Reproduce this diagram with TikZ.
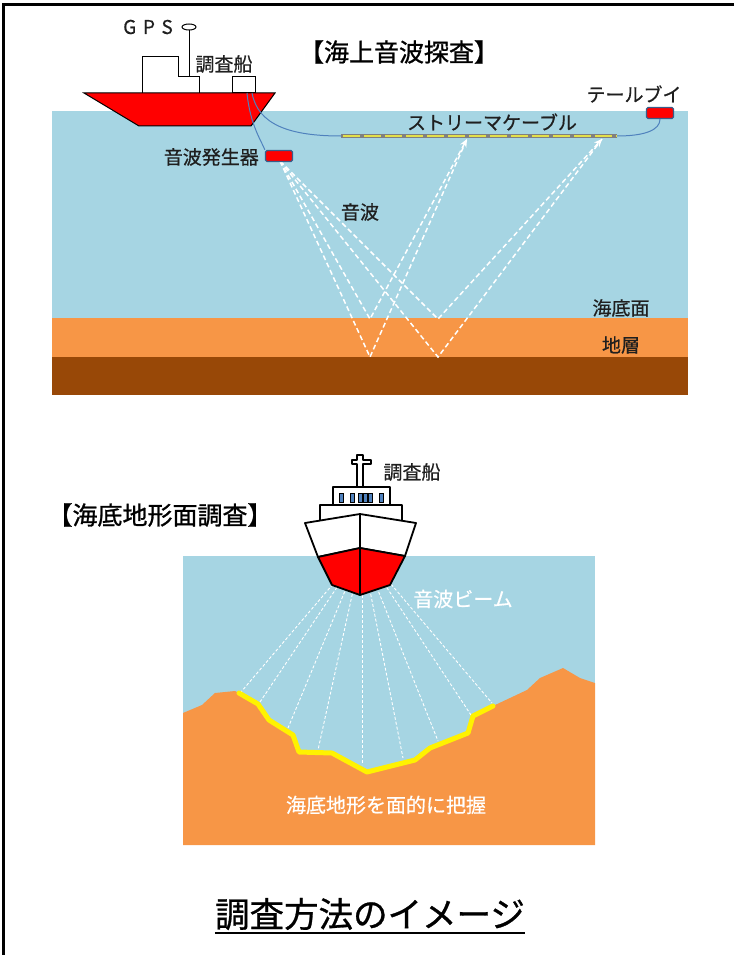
\documentclass[tikz,border=0pt]{standalone}
\usepackage{fontspec}
\setmainfont{Noto Sans CJK JP}
\usetikzlibrary{arrows.meta}

\definecolor{sea}{HTML}{A6D5E3}
\definecolor{ground}{HTML}{F79646}
\definecolor{rock}{HTML}{984807}
\definecolor{cable}{HTML}{4F81BD}
\definecolor{floatline}{HTML}{385D8A}
\definecolor{streamer}{HTML}{E3E04A}
\definecolor{txt}{HTML}{1F1F1F}

\tikzset{label_style/.style={text=txt, font=\fontsize{19}{19}\selectfont\addfontfeature{FakeBold=0.6}, inner sep=0pt}}
\tikzset{white_label/.style={text=white, font=\fontsize{20}{20}\selectfont\addfontfeature{FakeBold=0.6}, inner sep=0pt}}
\tikzset{title_style/.style={text=black, font=\fontsize{25}{25}\selectfont\addfontfeature{FakeBold=1}, inner sep=0pt}}
\tikzset{wave_style/.style={white, line width=1.5pt, dash pattern=on 5pt off 3pt}}
\tikzset{beam_style/.style={white, line width=0.9pt, dash pattern=on 3pt off 2pt}}
\tikzset{float_style/.style={rectangle, rounded corners=1.5pt, fill=red, draw=floatline, line width=1.3pt, minimum width=27pt, minimum height=11pt, inner sep=0pt}}
\tikzset{cable_style/.style={cable, line width=1pt}}
\tikzset{ship_style/.style={draw=black, line width=1.8pt, line join=round}}

\begin{document}
\begin{tikzpicture}[x=1pt, y=-1pt]
    \useasboundingbox (0,0) rectangle (734,955);
    \draw[line width=3pt] (734,5) -- (3,5) -- (3,955);

    % sea and layers
    \fill[sea] (52,111) rectangle (688,318);
    \fill[ground] (52,318) rectangle (688,357);
    \fill[rock] (52,357) rectangle (688,395);

    % sound waves
    \coordinate (src) at (280,161);
    \coordinate (f1) at (370,319);
    \coordinate (f2) at (370,357);
    \coordinate (f3) at (438,319);
    \coordinate (f4) at (438,357);
    \coordinate (hit1) at (467,139);
    \coordinate (hit2) at (602,139);
    \draw[wave_style, -{Stealth[length=8pt, width=7pt]}] (src) -- (f1) -- (hit1);
    \draw[wave_style] (src) -- (f2) -- (hit1);
    \draw[wave_style, -{Stealth[length=8pt, width=7pt]}] (src) -- (f3) -- (hit2);
    \draw[wave_style] (src) -- (f4) -- (hit2);

    % survey ship
    \draw[fill=white, line width=1pt] (142,93) -- (142,57) -- (178,57) -- (178,77) -- (199,77) -- (199,93);
    \draw[line width=1pt] (189,77) -- (189,30);
    \draw[fill=white, line width=1pt] (189,27) ellipse (7 and 3);
    \draw[fill=white, line width=1pt] (232,77) rectangle (255,93);
    \draw[fill=red, line width=1pt] (84,93) -- (275,93) -- (251,126) -- (139,126) -- cycle;

    % streamer cable
    \coordinate (strm_a) at (341,136);
    \coordinate (strm_b) at (617,136);
    \node[float_style] (gen) at (279,156) {};
    \node[float_style] (buoy) at (660,113) {};
    \draw[cable_style] (247,93) .. controls (250,125) and (262,142) .. (gen.north west);
    \draw[cable_style] (252,93) .. controls (258,125) and (290,136) .. (strm_a);
    \draw[cable_style] (strm_b) .. controls (645,136) and (660,130) .. (buoy.south);
    \draw[gray, line width=4.5pt] (strm_a) -- (strm_b);
    \draw[streamer, line width=2.5pt, dash pattern=on 17pt off 4pt] ([xshift=2pt]strm_a) -- (strm_b);

    \node[label_style] (gps) at (148,27) {\addfontfeature{LetterSpace=35}GPS};
    \node[label_style] (ship1) at (224,64) {調査船};
    \node[title_style] (title1) at (399,52) {【海上音波探査】};
    \node[label_style] (buoy_lbl) at (634,94) {テールブイ};
    \node[label_style] (strm_lbl) at (492,122) {ストリーマケーブル};
    \node[label_style, anchor=east] (gen_lbl) at (259,157) {音波発生器};
    \node[label_style] (wave_lbl) at (360,212) {音波};
    \node[label_style] (floor_lbl) at (621,308) {海底面};
    \node[label_style] (layer_lbl) at (621,345) {地層};

    % seabed survey
    \fill[sea] (183,556) rectangle (595,845);
    \coordinate (focus) at (362,550);
    \foreach \bx/\by in {241/692, 260/702, 288/728, 318/750, 362/765, 403/758, 438/741, 471/715, 492/703}
        \draw[beam_style] (focus) -- (\bx,\by);
    \fill[ground] (183,713) -- (202,705) -- (215,693) -- (235,691) -- (239,693)
        -- (258,704) -- (269,720) -- (293,735) -- (299,752) -- (332,753) -- (367,772)
        -- (415,760) -- (430,748) -- (468,733) -- (473,716) -- (493,706)
        -- (527,690) -- (540,678) -- (563,668) -- (580,678) -- (595,683)
        -- (595,845) -- (183,845) -- cycle;
    \draw[yellow, line width=5pt, line join=round, line cap=round] (239,693)
        -- (258,704) -- (269,720) -- (293,735) -- (299,752) -- (332,753) -- (367,772)
        -- (415,760) -- (430,748) -- (468,733) -- (473,716) -- (493,706);

    % ship seen from the bow
    \draw[ship_style, fill=white, line width=1.4pt] (357,455) -- (363,455) -- (363,460) -- (371,460) -- (371,464) -- (363,464)
        -- (363,487) -- (357,487) -- (357,464) -- (352,464) -- (352,460) -- (357,460) -- cycle;
    \draw[ship_style, fill=white] (333,487) rectangle (390,505);
    \foreach \wx in {339,350,358,363,368,379}
        \draw[fill=cable, line width=0.6pt] (\wx,493) rectangle ++(4.5,9);
    \draw[ship_style, fill=white] (320,505) rectangle (402,521);
    \draw[ship_style, fill=white] (305,523) -- (360,514) -- (416,523) -- (405,556) -- (360,548) -- (318,557) -- cycle;
    \draw[ship_style, fill=red] (318,557) -- (360,548) -- (405,556) -- (390,585) -- (360,595) -- (332,585) -- cycle;
    \draw[ship_style] (360,514) -- (360,595);

    \node[label_style, font=\fontsize{19}{19}\selectfont\addfontfeature{FakeBold=0.6}] (ship2) at (412,472) {調査船};
    \node[white_label] (beam_lbl) at (463,599) {音波ビーム};
    \node[white_label] (grasp_lbl) at (386,805) {海底地形を面的に把握};
    \node[title_style] (title2) at (160,515) {【海底地形面調査】};

    \node[title_style, font=\fontsize{34.5}{34.5}\selectfont\addfontfeature{FakeBold=0.8}] (title) at (370,914) {調査方法のイメージ};
    \draw[line width=1.5pt] ([yshift=-3pt]title.south west) -- ([yshift=-3pt]title.south east);
\end{tikzpicture}
\end{document}
